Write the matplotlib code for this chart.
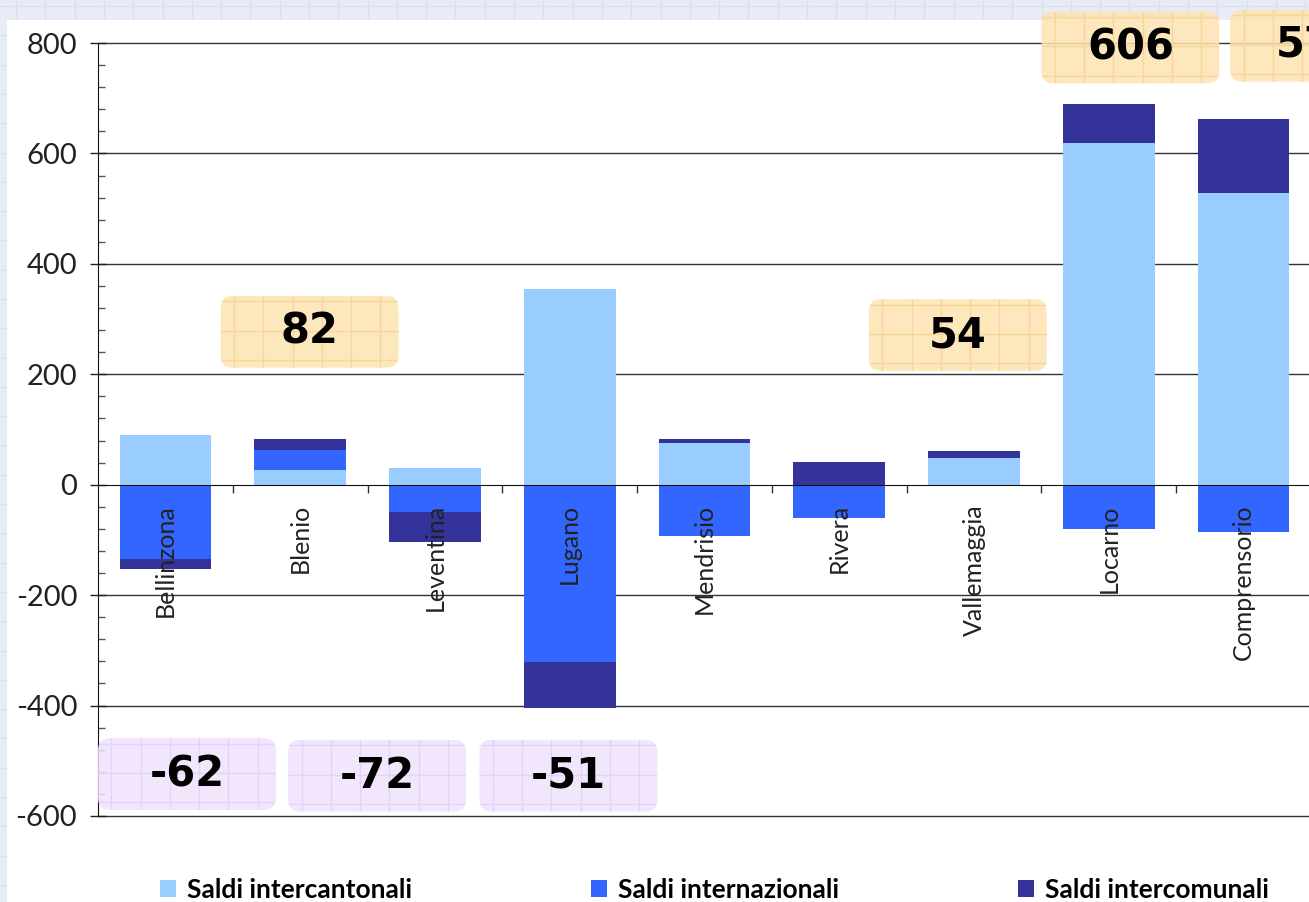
import numpy as np
import matplotlib.pyplot as plt
import matplotlib as mpl
from matplotlib.patches import FancyBboxPatch, Rectangle
from matplotlib.ticker import MultipleLocator, FixedLocator

mpl.rcParams['font.family'] = ['Lato', 'DejaVu Sans']

regioni = ['Bellinzona', 'Blenio', 'Leventina', 'Lugano', 'Mendrisio',
           'Rivera', 'Vallemaggia', 'Locarno', 'Comprensorio']
intercantonali = [90, 27, 31, 354, 75, 0, 49, 618, 529]
internazionali = [-134, 36, -49, -321, -92, -61, -3, -81, -85]
intercomunali = [-18, 19, -54, -84, 8, 42, 12, 72, 134]

# saldi totali messi in evidenza nei riquadri
saldo_regioni = ['Bellinzona', 'Blenio', 'Leventina', 'Lugano',
                 'Vallemaggia', 'Locarno', 'Comprensorio']
saldo_valori = [-62, 82, -72, -51, 54, 606, 578]

# dove stanno i riquadri (spostamento dalla colonna, centro verticale)
box_dx = [0.16, 0.07, -0.43, -0.01, -0.12, 0.16, 0.56]
box_y = [-524, 277, -527, -527, 271, 792, 795]

serie = [('Saldi intercantonali', intercantonali, '#99ccff'),
         ('Saldi internazionali', internazionali, '#3366ff'),
         ('Saldi intercomunali', intercomunali, '#333399')]

W, H = 1309, 902
fig = plt.figure(figsize=(W / 100, H / 100), dpi=100)

# sfondo a quadretti
bg = fig.add_axes([0, 0, 1, 1], zorder=-10)
bg.set_xlim(0, W)
bg.set_ylim(H, 0)
bg.axis('off')
bg.add_patch(Rectangle((0, 0), W, H, color='#e7ecf6', lw=0, zorder=0))
for v in np.arange(16, W, 29.3):
    bg.axvline(v, color='#d9e1ef', lw=1, zorder=1)
for h in np.arange(6, H, 29.3):
    bg.axhline(h, color='#d9e1ef', lw=1, zorder=1)
bg.add_patch(Rectangle((7, 20), W, H, color='white', lw=0, zorder=5))

ax = fig.add_axes([98 / W, 1 - 816 / H, 1213 / W, 773 / H])
ax.patch.set_alpha(0)

x = np.arange(len(regioni))
pos_base = np.zeros(len(regioni))
neg_base = np.zeros(len(regioni))
for nome, vals, col in serie:
    v = np.array(vals, dtype=float)
    base = np.where(v >= 0, pos_base, neg_base)
    ax.bar(x, v, 0.68, bottom=base, color=col, label=nome, zorder=1)
    pos_base += np.clip(v, 0, None)
    neg_base += np.clip(v, None, 0)

ax.set_xlim(-0.5, len(regioni) - 0.5)
ax.set_ylim(-600, 800)

for s in ['top', 'right']:
    ax.spines[s].set_visible(False)
ax.spines['bottom'].set_position(('data', 0))
ax.spines['bottom'].set_color('#111111')
ax.spines['left'].set_color('#111111')

yt = np.arange(-600, 801, 200)
for yv in yt:
    if yv != 0:
        ax.axhline(yv, color='#333333', lw=1, zorder=0.5, clip_on=False)

ax.set_yticks(yt)
ax.set_yticklabels([str(v) for v in yt])
ax.yaxis.set_minor_locator(MultipleLocator(40))
ax.tick_params(axis='y', which='major', direction='inout', length=12,
               width=1, labelsize=21, pad=9, colors='#222222')
ax.tick_params(axis='y', which='minor', direction='in', length=5,
               width=1, color='#555555')

ax.set_xticks(x)
ax.set_xticklabels(regioni, rotation=90, fontsize=18, color='#222222')
ax.xaxis.set_minor_locator(FixedLocator(x[:-1] + 0.5))
ax.tick_params(axis='x', which='major', length=0, pad=14)
ax.tick_params(axis='x', which='minor', direction='out', length=6,
               width=1, color='#333333')

# riquadri con i saldi totali
bw, bh = 1.32, 130
asp = (bh / 72) / (bw / 178)
for reg, val, dx, yc in zip(saldo_regioni, saldo_valori, box_dx, box_y):
    cx = regioni.index(reg) + dx
    if val > 0:
        fill, line = '#fde3b2', '#fad597'
    else:
        fill, line = '#efe2fc', '#e4d2f8'
    p = FancyBboxPatch((cx - bw / 2, yc - bh / 2), bw, bh,
                       boxstyle='round,pad=0,rounding_size=0.09',
                       mutation_aspect=asp, fc=fill, ec='none', alpha=0.85,
                       clip_on=False, zorder=3)
    ax.add_patch(p)
    for gx in np.arange(cx - bw / 2 + 0.1, cx + bw / 2, 0.217):
        l, = ax.plot([gx, gx], [yc - bh / 2, yc + bh / 2], color=line,
                     lw=1, zorder=3.1)
        l.set_clip_path(p)
        l.set_clip_box(None)
    for gy in np.arange(yc - bh / 2 + 14, yc + bh / 2, 53):
        l, = ax.plot([cx - bw / 2, cx + bw / 2], [gy, gy], color=line,
                     lw=1, zorder=3.1)
        l.set_clip_path(p)
        l.set_clip_box(None)
    ax.text(cx, yc, str(val), ha='center', va='center', fontsize=30,
            weight='bold', family='DejaVu Sans', color='black', zorder=4,
            clip_on=False)

fig.legend(loc='center left', bbox_to_anchor=(160 / W, 1 - 890 / H),
           ncol=3, frameon=False, prop=dict(weight='bold', size=19),
           handlelength=0.61, handleheight=0.61, handletextpad=0.4,
           columnspacing=6.8, borderpad=0, borderaxespad=0)

fig.savefig('out.png', dpi=100)
